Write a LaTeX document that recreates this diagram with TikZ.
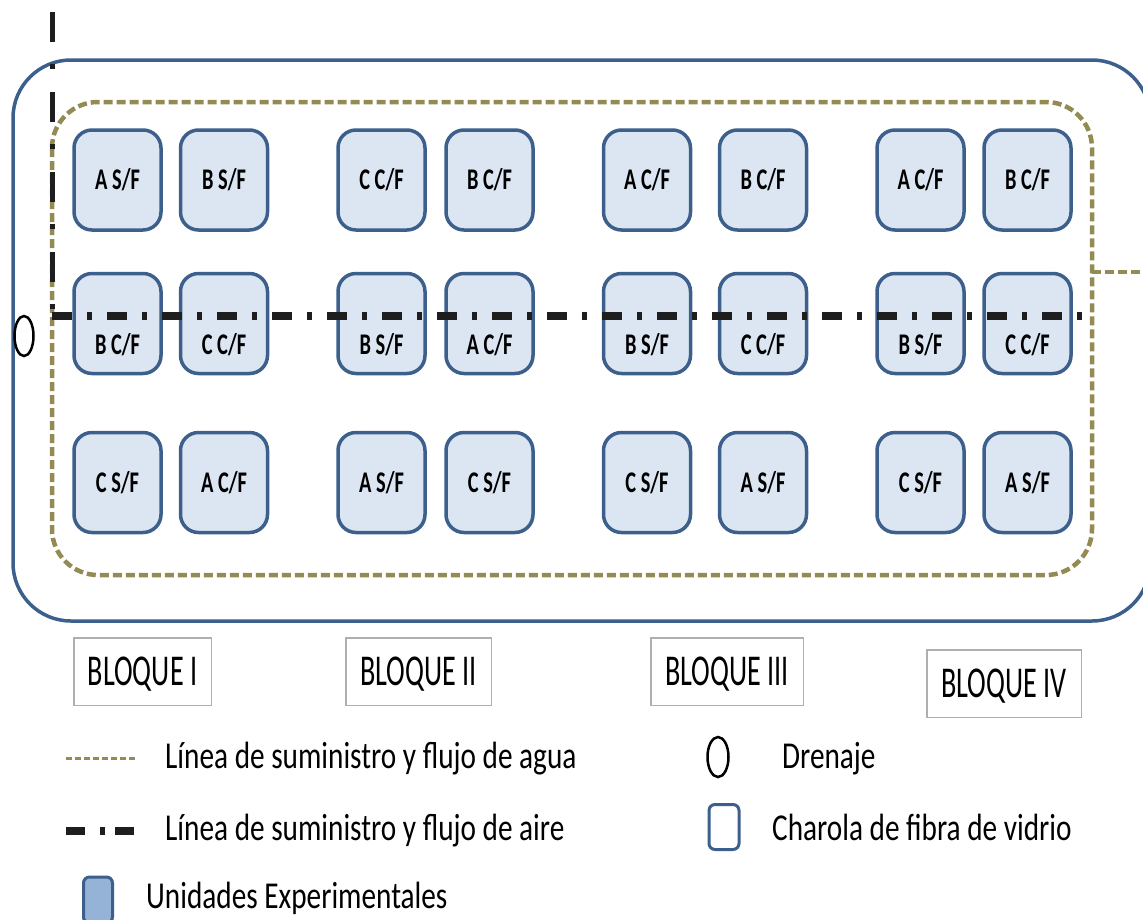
\documentclass[tikz,border=0pt]{standalone}
\usepackage{fontspec}
\setmainfont{Carlito}
\newfontfamily\trayfont[FakeStretch=0.68]{Carlito}
\newfontfamily\legfont[FakeStretch=0.77]{Carlito}
\newfontfamily\blqfont[FakeStretch=0.64]{Carlito}
\usepackage{tikz}
\usetikzlibrary{arrows.meta, positioning, calc, shapes.geometric}

\definecolor{trayblue}{RGB}{60,95,140}
\definecolor{trayfill}{RGB}{220,230,242}
\definecolor{unitfill}{RGB}{149,179,215}
\definecolor{waterolive}{RGB}{148,138,84}
\definecolor{airblack}{RGB}{30,30,30}
\definecolor{framegray}{RGB}{175,175,175}

\tikzset{
  tray/.style={draw=trayblue, fill=trayfill, line width=3.5pt, rounded corners=18pt,
    minimum width=87pt, minimum height=100pt, inner sep=0pt,
    font=\trayfont\bfseries\fontsize{30}{31}\selectfont, text height=19pt, text depth=0pt},
  traylow/.style={tray, text height=67pt, text depth=5pt},
  bloque/.style={draw=framegray, line width=1.5pt, minimum height=67.5pt, inner sep=0pt,
    font=\blqfont\fontsize{44}{46}\selectfont, text height=28pt, text depth=0pt},
  drain/.style={draw=black, ellipse, line width=2.5pt, minimum width=19pt,
    minimum height=40pt, inner sep=0pt},
  water/.style={draw=waterolive, line width=4.5pt, dash pattern=on 9pt off 4pt},
  airv/.style={draw=airblack, line width=5pt, dash pattern=on 30pt off 22pt on 5pt off 23pt},
  airh/.style={draw=airblack, line width=8pt, dash pattern=on 20pt off 15pt on 5pt off 15pt},
  legtxt/.style={anchor=base west, inner sep=0pt},
}

\begin{document}
\begin{tikzpicture}[x=1pt, y=-1pt, font=\legfont\fontsize{38}{40}\selectfont]
  \useasboundingbox (0,0) rectangle (1143,919);
  % tank and water line
  \draw[trayblue, line width=3.5pt, rounded corners=58pt] (13,60) rectangle (1150,621);
  \draw[water, rounded corners=46pt] (52,102) rectangle (1092,575);
  \coordinate (wjoin) at (1092,272);
  \coordinate (wout) at (1150,272);
  \draw[water] (wjoin) -- (wout);

  % experimental units, row by row
  \node[tray] (t11) at (117.5,180) {A S/F};
  \node[tray] (t12) at (224,180) {B S/F};
  \node[tray] (t13) at (381.5,180) {C C/F};
  \node[tray] (t14) at (489.5,180) {B C/F};
  \node[tray] (t15) at (647,180) {A C/F};
  \node[tray] (t16) at (763,180) {B C/F};
  \node[tray] (t17) at (920.5,180) {A C/F};
  \node[tray] (t18) at (1027.5,180) {B C/F};

  \node[traylow] (t21) at (117.5,323.5) {B C/F};
  \node[traylow] (t22) at (224,323.5) {C C/F};
  \node[traylow] (t23) at (381.5,323.5) {B S/F};
  \node[traylow] (t24) at (489.5,323.5) {A C/F};
  \node[traylow] (t25) at (647,323.5) {B S/F};
  \node[traylow] (t26) at (763,323.5) {C C/F};
  \node[traylow] (t27) at (920.5,323.5) {B S/F};
  \node[traylow] (t28) at (1027.5,323.5) {C C/F};

  \node[tray] (t31) at (117.5,482.5) {C S/F};
  \node[tray] (t32) at (224,482.5) {A C/F};
  \node[tray] (t33) at (381.5,482.5) {A S/F};
  \node[tray] (t34) at (489.5,482.5) {C S/F};
  \node[tray] (t35) at (647,482.5) {C S/F};
  \node[tray] (t36) at (763,482.5) {A S/F};
  \node[tray] (t37) at (920.5,482.5) {C S/F};
  \node[tray] (t38) at (1027.5,482.5) {A S/F};

  % air line and drain
  \coordinate (airtop) at (52,12);
  \coordinate (airbend) at (52,316);
  \coordinate (airend) at (1085,316);
  \draw[airv] (airtop) -- (airbend);
  \draw[airh] (airbend) -- (airend);
  \node[drain] (drain) at (24,336) {};

  % blocks
  \node[bloque, minimum width=137.5pt] (b1) at (142.5,671.5) {BLOQUE I};
  \node[bloque, minimum width=145.5pt] (b2) at (418.5,671.5) {BLOQUE II};
  \node[bloque, minimum width=152.5pt] (b3) at (727,671.5) {BLOQUE III};
  \node[bloque, minimum width=154.5pt] (b4) at (1004,683.5) {BLOQUE IV};

  % legend
  \draw[water, line width=3pt, dash pattern=on 6pt off 3pt] (66,758) -- (136,758);
  \node[legtxt] (lwater) at (165,768) {Línea de suministro y flujo de agua};
  \draw[airblack, line width=8pt, dash pattern=on 19pt off 15pt on 5pt off 10pt] (66,831) -- (137,831);
  \node[legtxt] (lair) at (165,840) {Línea de suministro y flujo de aire};
  \node[draw=trayblue, fill=unitfill, line width=3pt, rounded corners=6pt,
    minimum width=29pt, minimum height=46pt] (unitkey) at (98,900) {};
  \node[legtxt] (lunit) at (146,908) {Unidades Experimentales};
  \node[drain, minimum width=21pt, minimum height=40pt] (drainkey) at (718,757) {};
  \node[legtxt] (ldrain) at (782,768) {Drenaje};
  \node[draw=trayblue, line width=3pt, rounded corners=6pt,
    minimum width=30pt, minimum height=45pt] (charkey) at (724,827) {};
  \node[legtxt] (lchar) at (772,840) {Charola de fibra de vidrio};
\end{tikzpicture}
\end{document}
